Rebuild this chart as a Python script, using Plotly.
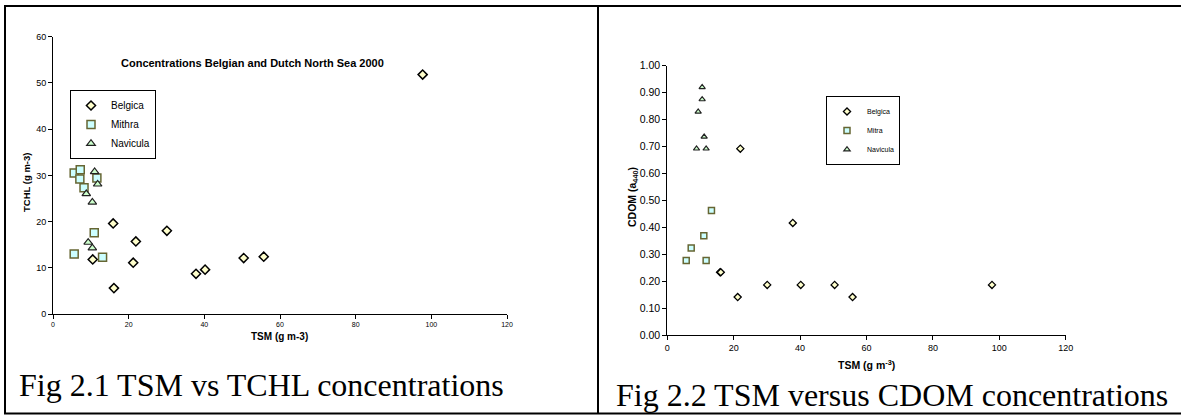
import plotly.graph_objects as go

W, H = 1181, 417

# ---------------- Fig 2.1 : TSM vs TCHL ----------------
belgica_tsm_1 = [15.9, 21.9, 30.1, 10.5, 21.2, 16.1, 37.8, 40.2, 50.4, 55.7, 97.7]
belgica_tchl = [19.6, 15.7, 18.0, 11.8, 11.1, 5.6, 8.7, 9.6, 12.1, 12.4, 51.8]
mithra_tsm_1 = [5.6, 7.2, 7.1, 8.2, 11.6, 10.9, 5.6, 13.1]
mithra_tchl = [30.5, 31.2, 29.2, 27.3, 29.4, 17.6, 13.0, 12.3]
navicula_tsm_1 = [11.0, 11.8, 8.8, 10.4, 9.3, 10.4]
navicula_tchl = [30.8, 28.1, 26.0, 24.2, 15.5, 14.3]

# ---------------- Fig 2.2 : TSM vs CDOM ----------------
belgica_tsm_2 = [22.0, 37.8, 15.9, 16.1, 21.2, 30.1, 40.2, 50.4, 55.8, 97.8]
belgica_cdom = [0.692, 0.416, 0.233, 0.233, 0.141, 0.186, 0.186, 0.186, 0.141, 0.186]
mitra_tsm_2 = [13.3, 11.0, 7.2, 5.7, 11.7]
mitra_cdom = [0.462, 0.369, 0.323, 0.277, 0.277]
navicula_tsm_2 = [10.5, 10.5, 9.3, 11.1, 8.8, 11.7]
navicula_cdom = [0.920, 0.875, 0.829, 0.736, 0.692, 0.692]

tsm_ticks = [0, 20, 40, 60, 80, 100, 120]
tchl_ticks = [0, 10, 20, 30, 40, 50, 60]
cdom_ticks = [0.0, 0.1, 0.2, 0.3, 0.4, 0.5, 0.6, 0.7, 0.8, 0.9, 1.0]

SANS = "Liberation Sans, Arial, sans-serif"
SERIF = "Liberation Serif, Times New Roman, serif"

DIAMOND_FILL = "#FFFFCC"
SQUARE_FILL = "#CCFFFF"
SQUARE_LINE = "#666633"
TRI_FILL = "#CCFFCC"

fig = go.Figure()

# Left chart traces
fig.add_trace(go.Scatter(x=belgica_tsm_1, y=belgica_tchl, mode="markers", name="Belgica",
                         legendgroup="b1", legend="legend",
                         marker=dict(symbol="diamond", size=7, color=DIAMOND_FILL,
                                     line=dict(color="#000000", width=1.5)),
                         xaxis="x", yaxis="y"))
fig.add_trace(go.Scatter(x=mithra_tsm_1, y=mithra_tchl, mode="markers", name="Mithra",
                         legendgroup="m1", legend="legend",
                         marker=dict(symbol="square", size=8, color=SQUARE_FILL,
                                     line=dict(color=SQUARE_LINE, width=1.5)),
                         xaxis="x", yaxis="y"))
fig.add_trace(go.Scatter(x=navicula_tsm_1, y=navicula_tchl, mode="markers", name="Navicula",
                         legendgroup="n1", legend="legend",
                         marker=dict(symbol="triangle-up", size=7.5, color=TRI_FILL,
                                     line=dict(color="#222222", width=1.2)),
                         xaxis="x", yaxis="y"))

# Right chart traces
fig.add_trace(go.Scatter(x=belgica_tsm_2, y=belgica_cdom, mode="markers", name="Belgica",
                         legendgroup="b2", legend="legend2",
                         marker=dict(symbol="diamond", size=5.5, color=DIAMOND_FILL,
                                     line=dict(color="#000000", width=1.3)),
                         xaxis="x2", yaxis="y2"))
fig.add_trace(go.Scatter(x=mitra_tsm_2, y=mitra_cdom, mode="markers", name="Mitra",
                         legendgroup="m2", legend="legend2",
                         marker=dict(symbol="square", size=6, color=SQUARE_FILL,
                                     line=dict(color=SQUARE_LINE, width=1.5)),
                         xaxis="x2", yaxis="y2"))
fig.add_trace(go.Scatter(x=navicula_tsm_2, y=navicula_cdom, mode="markers", name="Navicula",
                         legendgroup="n2", legend="legend2",
                         marker=dict(symbol="triangle-up", size=5.5, color=TRI_FILL,
                                     line=dict(color="#222222", width=1.2)),
                         xaxis="x2", yaxis="y2"))

axis_common = dict(showline=True, linecolor="#000000", linewidth=1, ticks="outside",
                   ticklen=4, tickcolor="#000000", tickwidth=1, showgrid=False,
                   zeroline=False, fixedrange=True, automargin=False)

fig.update_layout(
    template="none",
    width=W, height=H,
    margin=dict(l=0, r=0, t=0, b=0, pad=0, autoexpand=False),
    paper_bgcolor="white", plot_bgcolor="white",
    font=dict(family=SANS, color="#000000"),
    xaxis=dict(domain=[53 / W, 507 / W], range=[0, 120], tickvals=tsm_ticks,
               anchor="y", tickfont=dict(size=7, family=SANS), **axis_common),
    yaxis=dict(domain=[1 - 314 / H, 1 - 36.7 / H], range=[0, 60], tickvals=tchl_ticks,
               anchor="x", tickfont=dict(size=9, family=SANS), **axis_common),
    xaxis2=dict(domain=[667.3 / W, 1065.7 / W], range=[0, 120], tickvals=tsm_ticks,
                anchor="y2", tickfont=dict(size=9, family=SANS), **axis_common),
    yaxis2=dict(domain=[1 - 335 / H, 1 - 65.7 / H], range=[0, 1], tickvals=cdom_ticks,
                tickformat=".2f", anchor="x2", tickfont=dict(size=10.5, family=SANS),
                **axis_common),
    legend=dict(x=70 / W, y=1 - 90 / H, xanchor="left", yanchor="top",
                bgcolor="white", bordercolor="#000000", borderwidth=1,
                font=dict(size=10, family=SANS), itemwidth=30, tracegroupgap=3,
                traceorder="normal"),
    legend2=dict(x=826 / W, y=1 - 96 / H, xanchor="left", yanchor="top",
                 bgcolor="white", bordercolor="#000000", borderwidth=1,
                 font=dict(size=7, family=SANS), itemwidth=30, tracegroupgap=0,
                 traceorder="normal"),
    showlegend=True,
)

ann = []
# chart title
ann.append(dict(text="<b>Concentrations Belgian and Dutch North Sea 2000</b>",
                x=252 / W, y=1 - 63 / H, xref="paper", yref="paper",
                xanchor="center", yanchor="middle", showarrow=False,
                font=dict(size=11, family=SANS)))
# axis titles
ann.append(dict(text="<b>TSM (g m-3)</b>", x=279.5 / W, y=1 - 336 / H,
                xref="paper", yref="paper", xanchor="center", yanchor="middle",
                showarrow=False, font=dict(size=10, family=SANS)))
ann.append(dict(text="<b>TCHL (g m-3)</b>", x=27 / W, y=1 - 183 / H, textangle=-90,
                xref="paper", yref="paper", xanchor="center", yanchor="middle",
                showarrow=False, font=dict(size=9.5, family=SANS)))
ann.append(dict(text="<b>TSM (g m<sup>-3</sup>)</b>", x=866 / W, y=1 - 364 / H,
                xref="paper", yref="paper", xanchor="center", yanchor="middle",
                showarrow=False, font=dict(size=10.5, family=SANS)))
ann.append(dict(text="<b>CDOM (a<sub>440</sub>)</b>", x=633 / W, y=1 - 197 / H,
                textangle=-90, xref="paper", yref="paper", xanchor="center",
                yanchor="middle", showarrow=False, font=dict(size=10.5, family=SANS)))
# captions
ann.append(dict(text="Fig 2.1 TSM vs TCHL concentrations", x=17 / W, y=1 - 385 / H,
                xref="paper", yref="paper", xanchor="left", yanchor="middle",
                showarrow=False, font=dict(size=32, family=SERIF)))
ann.append(dict(text="Fig 2.2 TSM versus CDOM concentrations", x=614 / W, y=1 - 395 / H,
                xref="paper", yref="paper", xanchor="left", yanchor="middle",
                showarrow=False, font=dict(size=32, family=SERIF)))
fig.update_layout(annotations=ann)

# table borders
line = dict(color="#000000", width=2)
shapes = [
    dict(type="line", xref="paper", yref="paper", x0=4 / W, x1=1, y0=1 - 6 / H, y1=1 - 6 / H, line=line),
    dict(type="line", xref="paper", yref="paper", x0=4 / W, x1=1, y0=1 - 413.5 / H, y1=1 - 413.5 / H, line=line),
    dict(type="line", xref="paper", yref="paper", x0=5 / W, x1=5 / W, y0=1 - 6 / H, y1=1 - 413.5 / H, line=line),
    dict(type="line", xref="paper", yref="paper", x0=598 / W, x1=598 / W, y0=1 - 6 / H, y1=1 - 413.5 / H, line=line),
]
fig.update_layout(shapes=shapes)

fig.write_html("out.html")
